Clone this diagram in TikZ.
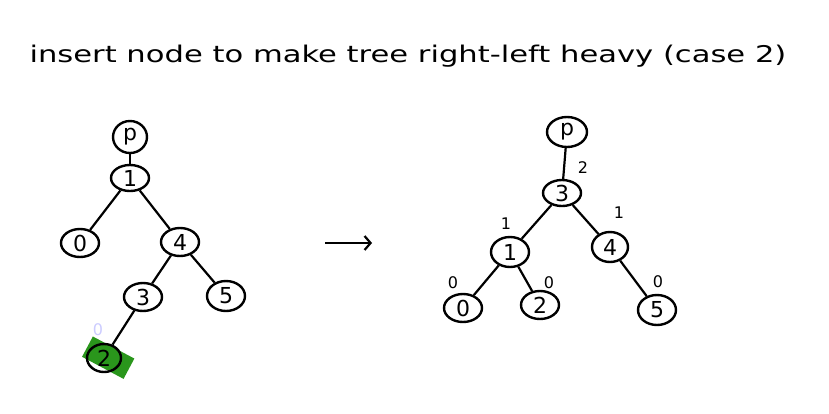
\documentclass[tikz,border=0pt]{standalone}
\usepackage{fontspec}
\setmainfont{DejaVu Sans}
\usetikzlibrary{shapes.geometric,arrows.meta}
\definecolor{hl}{RGB}{42,150,28}
\tikzset{
  tn/.style={draw, ellipse, line width=2.4pt, minimum width=38pt, minimum height=28pt, inner sep=0pt, font=\fontsize{22}{22}\selectfont},
  edge/.style={line width=2.2pt},
  bal/.style={font=\fontsize{16}{16}\selectfont, inner sep=0pt},
}
\begin{document}
\begin{tikzpicture}[x=1pt,y=-1pt]
\useasboundingbox (0,0) rectangle (829,413);
\fill[white] (0,0) rectangle (829,413);
\node[font=\fontsize{23}{23}\selectfont, anchor=center, xscale=1.33, transform shape] (title) at (408,56) {insert node to make tree right-left heavy (case 2)};
% left tree
\fill[hl, rotate around={-28:(108,357)}] (85,346) rectangle (132,369);
\node[tn, minimum height=32pt, minimum width=34pt] (lp) at (130,137) {p};
\node[tn, minimum height=26pt] (l1) at (130,178) {1};
\node[tn] (l0) at (80,243) {0};
\node[tn] (l4) at (180,242) {4};
\node[tn] (l3) at (143,297) {3};
\node[tn, minimum height=30pt] (l5) at (226,296) {5};
\node[tn, minimum width=34pt] (l2) at (104,358) {2};
\node[bal, text=blue!20] (lf) at (98,330) {0};
\draw[edge] (lp) -- (l1);
\draw[edge] (l1) -- (l0);
\draw[edge] (l1) -- (l4);
\draw[edge] (l4) -- (l3);
\draw[edge] (l4) -- (l5);
\draw[edge] (l3) -- (l2);
% arrow
\coordinate (a1) at (325,243);
\coordinate (a2) at (372,243);
\draw[line width=2.2pt, -{Straight Barb[length=6pt,width=14pt]}] (a1) -- (a2);
% right tree
\node[tn, minimum width=40pt, minimum height=30pt] (rp) at (567,132) {p};
\node[tn, minimum height=26pt] (r3) at (562,193) {3};
\node[tn, minimum height=30pt] (r1) at (510,252) {1};
\node[tn, minimum width=36pt, minimum height=30pt] (r4) at (610,247) {4};
\node[tn] (r0) at (463,308) {0};
\node[tn] (r2) at (540,305) {2};
\node[tn, minimum height=30pt] (r5) at (657,310) {5};
\draw[edge] (rp) -- (r3);
\draw[edge] (r3) -- (r1);
\draw[edge] (r3) -- (r4);
\draw[edge] (r1) -- (r0);
\draw[edge] (r1) -- (r2);
\draw[edge] (r4) -- (r5);
\node[bal] (b3) at (583,168) {2};
\node[bal] (b1) at (506,224) {1};
\node[bal] (b4) at (619,213) {1};
\node[bal] (b0) at (453,283) {0};
\node[bal] (b2) at (549,283) {0};
\node[bal] (b5) at (658,282) {0};
\end{tikzpicture}
\end{document}
